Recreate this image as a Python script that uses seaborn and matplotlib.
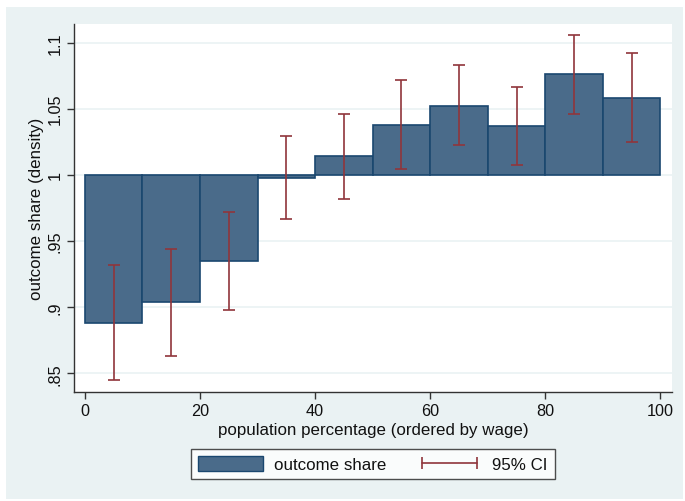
import matplotlib
matplotlib.use("Agg")
import matplotlib.pyplot as plt
import seaborn as sns
import numpy as np
from matplotlib.patches import Rectangle, Patch
from matplotlib.lines import Line2D

# data
bin_left = [0, 10, 20, 30, 40, 50, 60, 70, 80, 90]
bin_width = 10
share = [0.888, 0.904, 0.935, 0.998, 1.014, 1.038, 1.052, 1.037, 1.076, 1.058]
ci_low = [0.845, 0.8635, 0.898, 0.967, 0.982, 1.0045, 1.0225, 1.0075, 1.046, 1.025]
ci_high = [0.932, 0.944, 0.972, 1.0295, 1.046, 1.0715, 1.083, 1.0665, 1.1055, 1.092]
yticks = [0.85, 0.9, 0.95, 1.0, 1.05, 1.1]
ytick_labels = [".85", ".9", ".95", "1", "1.05", "1.1"]
xticks = [0, 20, 40, 60, 80, 100]

sns.set_theme(style="white")
plt.rcParams["font.family"] = ["Liberation Sans", "DejaVu Sans"]

BG = "#EAF2F3"
BAR = "#4A6B8A"
EDGE = "#1A476F"
CI = "#90353B"

fig = plt.figure(figsize=(6.85, 5.02), dpi=100)
fig.patch.set_facecolor("white")
fig.patches.append(Rectangle((6 / 685, 2 / 502), 677 / 685, 492 / 502,
                             transform=fig.transFigure, facecolor=BG,
                             edgecolor="none", zorder=-10))
ax = fig.add_axes([74 / 685, 1 - 393 / 502, 598 / 685, 368 / 502])
ax.set_facecolor("white")

base = 1.0
heights = np.array(share) - base
centers = np.array(bin_left) + bin_width / 2
ax.bar(bin_left, heights, width=bin_width, bottom=base, align="edge",
       color=BAR, edgecolor=EDGE, linewidth=1.2, zorder=2)
lo = np.array(ci_low)
hi = np.array(ci_high)
ax.errorbar(centers, (lo + hi) / 2, yerr=[(hi - lo) / 2, (hi - lo) / 2],
            fmt="none", ecolor=CI, elinewidth=1.2, capsize=4, capthick=1.2,
            zorder=3)

ax.set_xlim(-1.9, 102)
ax.set_ylim(0.836, 1.114)
ax.set_yticks(yticks)
ax.set_yticklabels(ytick_labels, rotation=90, va="center")
ax.set_xticks(xticks)
ax.grid(axis="y", color=BG, linewidth=1.2, zorder=0)
ax.set_axisbelow(True)
for s in ["top", "right"]:
    ax.spines[s].set_visible(False)
for s in ["left", "bottom"]:
    ax.spines[s].set_color("#333333")
    ax.spines[s].set_linewidth(1.0)
ax.tick_params(axis="both", which="major", direction="out", length=5,
               width=1.0, color="#333333", labelsize=11.7, pad=3,
               left=True, bottom=True, labelcolor="#111111")
ax.set_xlabel("population percentage (ordered by wage)", fontsize=12.2,
              labelpad=3, color="#111111")
ax.set_ylabel("outcome share (density)", fontsize=12.2, labelpad=3,
              color="#111111")

handles = [Patch(facecolor=BAR, edgecolor=EDGE, linewidth=1.0),
           Line2D([0], [0], color=CI, lw=1.2, marker="|", markersize=8,
                  markeredgewidth=1.2)]
leg = fig.legend(handles, ["outcome share", "95% CI"], ncol=2,
                 loc="center", bbox_to_anchor=(373 / 685, 1 - 465 / 502),
                 frameon=True, fancybox=False, fontsize=12.2, numpoints=2,
                 handlelength=3.85, handleheight=1.0, columnspacing=1.77,
                 handletextpad=0.63, borderpad=0.42)
for t in leg.get_texts():
    t.set_color("#111111")
leg.get_frame().set_edgecolor("#222222")
leg.get_frame().set_linewidth(1.0)
leg.get_frame().set_facecolor("white")

fig.savefig("out.png", dpi=100, facecolor=fig.get_facecolor())
